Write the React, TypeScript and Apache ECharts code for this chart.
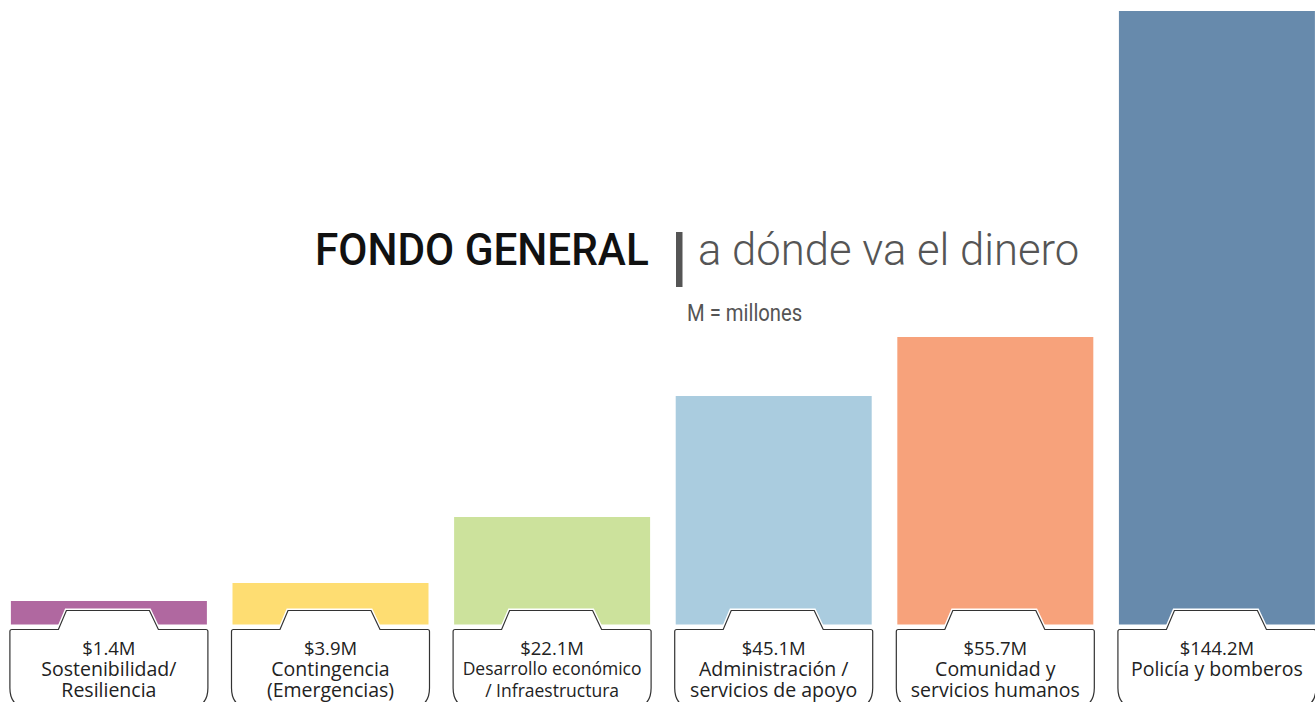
import React, { useEffect, useRef } from "react";
import * as echarts from "echarts";

// Category names (label text inside the tabs)
const categories: string[] = [
  "Sostenibilidad/\nResiliencia",
  "Contingencia\n(Emergencias)",
  "Desarrollo económico\n/ Infraestructura",
  "Administración /\nservicios de apoyo",
  "Comunidad y\nservicios humanos",
  "Policía y bomberos",
];
// Amounts shown in the labels ($ millions)
const amounts: number[] = [1.4, 3.9, 22.1, 45.1, 55.7, 144.2];
// Drawn bar heights (the graphic is not to scale)
const barHeights: number[] = [23.5, 41.5, 107.5, 228.5, 287.5, 613.5];
const barColors: string[] = ["#B068A0", "#FEDD72", "#CCE29C", "#AACCDF", "#F7A27B", "#678AAC"];
const nameFontSizes: number[] = [19.5, 19.5, 17.5, 19.5, 19.5, 19.5];

const LABEL_FONT = "'Open Sans', 'Noto Sans', sans-serif";
const TITLE_FONT = "Roboto, 'Noto Sans', sans-serif";

export default function App() {
  const ref = useRef<HTMLDivElement>(null);
  useEffect(() => {
    if (!ref.current) return;
    const chart = echarts.init(ref.current, undefined, { renderer: "svg" });
    const halfW = 98;
    const option: any = {
      animation: false,
      backgroundColor: "#ffffff",
      grid: { left: 0, right: 0, top: 11, bottom: 77.5 },
      xAxis: { type: "value", min: -0.4914, max: 5.4426, show: false },
      yAxis: { type: "value", min: 0, max: 613.5, show: false },
      series: [
        {
          type: "bar",
          barWidth: 196,
          data: barHeights.map((h, i) => ({ value: [i, h], itemStyle: { color: barColors[i] } })),
          silent: true,
        },
        {
          type: "custom",
          data: amounts.map((v, i) => [i, v]),
          z: 5,
          silent: true,
          renderItem: (params: any, api: any) => {
            const i = params.dataIndex;
            const p = api.coord([api.value(0), 0]);
            const cx = p[0];
            const base = p[1];
            const L = cx - halfW - 1;
            const R = cx + halfW + 1;
            const H = base + 5;
            const T = base - 14;
            const B = base + 83.5;
            const r = 20;
            const tl = cx - halfW + 47.5;
            const tl2 = cx - halfW + 55.5;
            const tr2 = cx - halfW + 138.5;
            const tr = cx - halfW + 147.5;
            const d =
              `M ${L} ${H + 2} Q ${L} ${H} ${L + 2} ${H} L ${tl} ${H} L ${tl2} ${T} L ${tr2} ${T} L ${tr} ${H} ` +
              `L ${R - 2} ${H} Q ${R} ${H} ${R} ${H + 2} L ${R} ${B - r} Q ${R} ${B} ${R - r} ${B} ` +
              `L ${L + r} ${B} Q ${L} ${B} ${L} ${B - r} Z`;
            const lines = categories[i].split("\n");
            const txt = `{a|$${api.value(1)}M}\n` + lines.map((l) => `{n|${l}}`).join("\n");
            return {
              type: "group",
              children: [
                { type: "path", shape: { pathData: d }, style: { fill: "#fff", stroke: "#fff", lineWidth: 4 } },
                { type: "path", shape: { pathData: d }, style: { fill: "#fff", stroke: "#333", lineWidth: 1.2 } },
                {
                  type: "text",
                  style: {
                    text: txt,
                    x: cx,
                    y: base + 12,
                    align: "center",
                    verticalAlign: "top",
                    fontFamily: LABEL_FONT,
                    fill: "#222",
                    rich: {
                      a: { fontSize: 18.5, lineHeight: 21, fontFamily: LABEL_FONT, fill: "#222" },
                      n: { fontSize: nameFontSizes[i], lineHeight: 21.5, fontFamily: LABEL_FONT, fill: "#222" },
                    },
                  },
                },
              ],
            };
          },
        },
      ],
      graphic: [
        {
          type: "text",
          x: 315,
          y: 250,
          scaleX: 0.94,
          style: {
            text: "FONDO GENERAL",
            fontFamily: TITLE_FONT,
            fontWeight: 500,
            fontSize: 45,
            fill: "#111",
            align: "left",
            verticalAlign: "middle",
          },
        },
        { type: "rect", shape: { x: 676, y: 232, width: 6.5, height: 55 }, style: { fill: "#555" } },
        {
          type: "text",
          x: 698,
          y: 250,
          scaleX: 0.97,
          style: {
            text: "a dónde va el dinero",
            fontFamily: TITLE_FONT,
            fontWeight: 300,
            fontSize: 45,
            fill: "#555",
            align: "left",
            verticalAlign: "middle",
          },
        },
        {
          type: "text",
          x: 687,
          y: 313,
          scaleX: 0.88,
          style: {
            text: "M = millones",
            fontFamily: TITLE_FONT,
            fontWeight: 400,
            fontSize: 23,
            fill: "#555",
            align: "left",
            verticalAlign: "middle",
          },
        },
      ],
    };
    chart.setOption(option);
    return () => chart.dispose();
  }, []);
  return (
    <div
      ref={ref}
      style={{ position: "absolute", left: 0, top: 0, width: 1315, height: 702, overflow: "hidden" }}
    />
  );
}
